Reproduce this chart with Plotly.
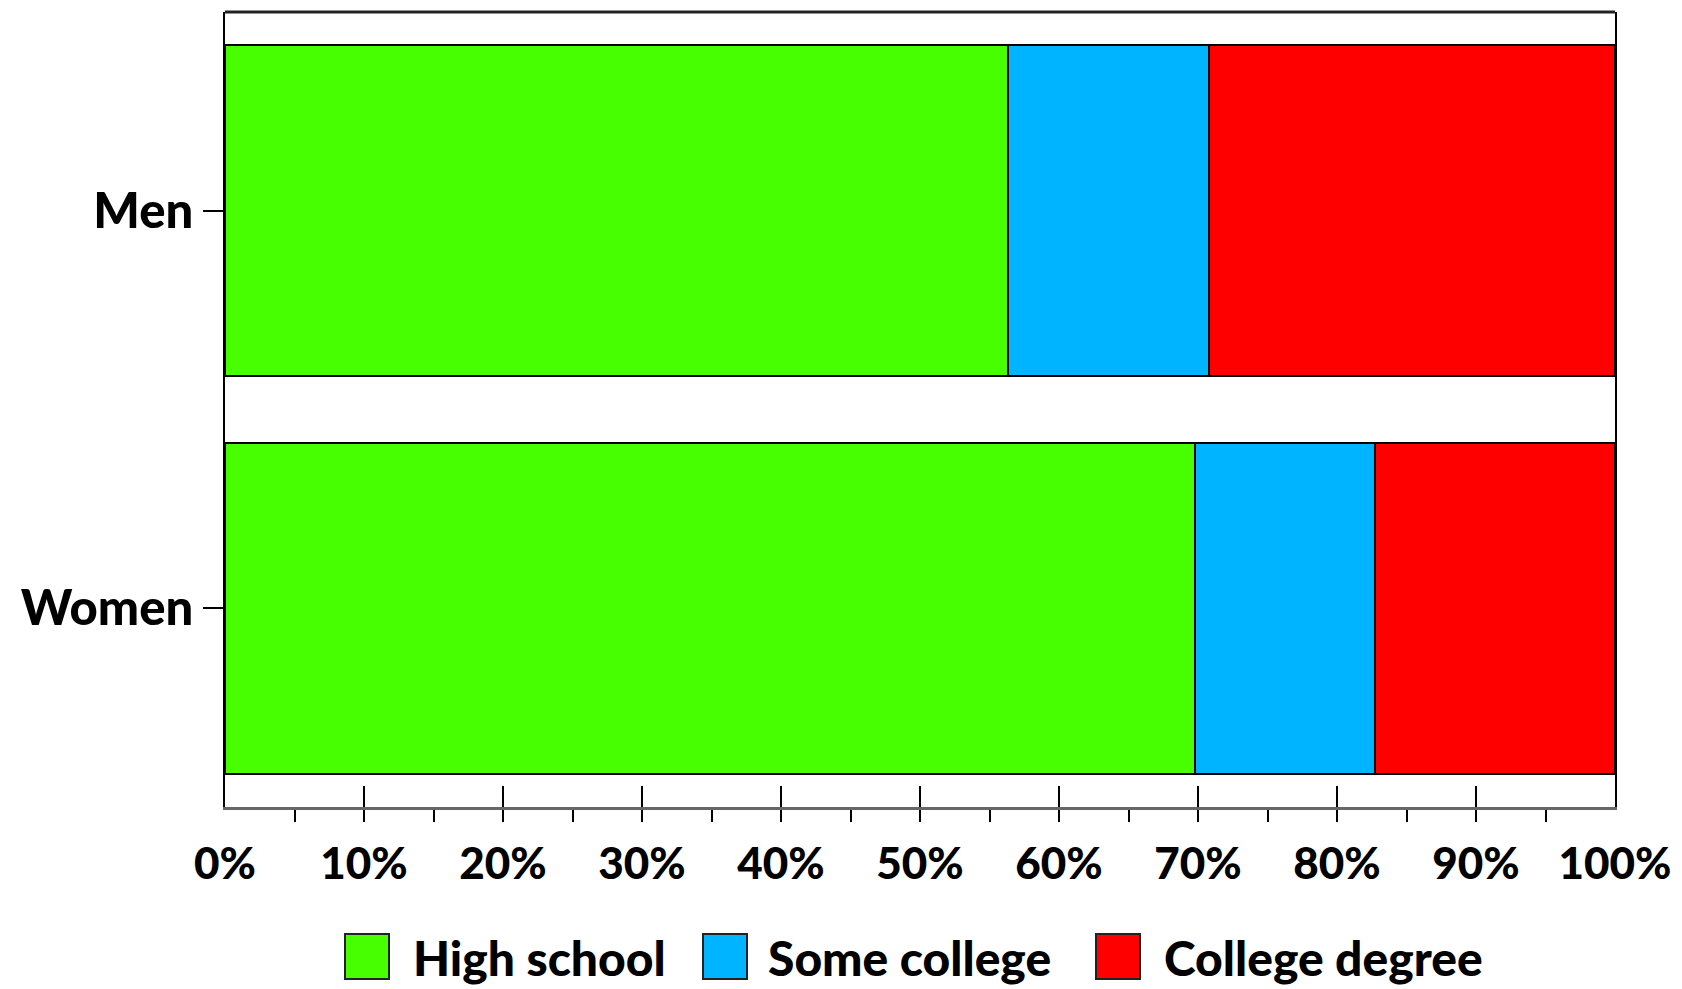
import plotly.graph_objects as go

categories = ["Women", "Men"]
series_names = ["High school", "Some college", "College degree"]
high_school = [69.8, 56.3]
some_college = [12.9, 14.5]
college_degree = [17.3, 29.2]
series_values = [high_school, some_college, college_degree]
colors = ["#48FF00", "#00B4FF", "#FF0000"]
x_ticks = list(range(0, 101, 10))
x_tick_labels = [f"{v}%" for v in x_ticks]

FONT = "Lato"
W, H = 1682, 989
PL, PR, PT, PB = 225, 1615, 12, 807  # plot area in page pixels
OFF = 8  # page body margin

def px_x(px):
    return (px - PL) / (PR - PL)

def px_y(py):
    return (PB - py) / (PB - PT)

fig = go.Figure()
for name, vals, col in zip(series_names, series_values, colors):
    fig.add_trace(go.Bar(
        y=categories, x=vals, name=name, orientation="h",
        marker=dict(color=col, line=dict(color="black", width=2)),
        width=0.833, showlegend=False,
    ))

# legend drawn manually (large swatches)
legend_box_x = [345, 703, 1096]
legend_text_x = [411, 766, 1162]
for bx, tx, name, col in zip(legend_box_x, legend_text_x, series_names, colors):
    fig.add_shape(type="rect", xref="paper", yref="paper",
                  x0=px_x(bx), x1=px_x(bx + 44),
                  y0=px_y(934), y1=px_y(979),
                  fillcolor=col, line=dict(color="#222", width=2))
    fig.add_annotation(xref="paper", yref="paper", x=px_x(tx),
                       y=px_y(957), xanchor="left", yanchor="middle",
                       text=name, showarrow=False,
                       font=dict(family=FONT, size=48, color="black", weight=900))

# top frame line
fig.add_shape(type="line", xref="paper", yref="paper", x0=0, x1=1, y0=1, y1=1,
              line=dict(color="#222", width=3))

fig.update_layout(
    width=W, height=H, barmode="stack",
    margin=dict(l=PL - OFF, r=W + OFF - PR, t=PT - OFF, b=H + OFF - PB),
    plot_bgcolor="white", paper_bgcolor="white",
    font=dict(family=FONT, size=44, color="black", weight=900),
    xaxis=dict(range=[0, 100], tickvals=x_ticks, ticktext=x_tick_labels,
               ticks="inside", ticklen=21, tickwidth=2, tickcolor="black",
               showline=True, linecolor="#666", linewidth=3,
               showgrid=False, zeroline=False, ticklabelstandoff=16,
               tickfont=dict(family=FONT, size=44, weight=900),
               minor=dict(dtick=5, tick0=0, ticks="outside", ticklen=12,
                          tickwidth=2, tickcolor="black", showgrid=False)),
    yaxis=dict(range=[-0.5, 1.5], ticks="outside", ticklen=20, tickwidth=2,
               tickcolor="black", showline=True, linecolor="black", linewidth=2,
               mirror=True, showgrid=False, zeroline=False,
               tickfont=dict(family=FONT, size=49, weight=900)),
)
fig.write_html("out.html")
